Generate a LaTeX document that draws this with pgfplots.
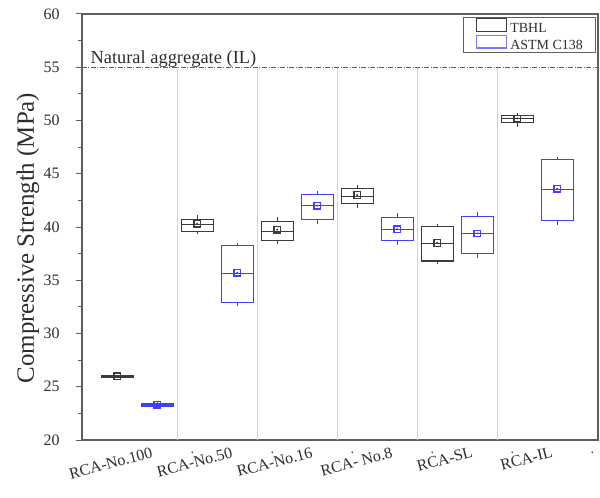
\documentclass[border=0pt]{standalone}
\usepackage{fontspec}
\setmainfont{Liberation Serif}
\usepackage{pgfplots}
\pgfplotsset{compat=1.18}
\usepgfplotslibrary{statistics}
\definecolor{tb}{RGB}{60,60,60}
\definecolor{bl}{RGB}{64,64,250}
\definecolor{sepc}{RGB}{212,212,212}
\definecolor{axc}{RGB}{95,95,95}
\definecolor{txc}{RGB}{45,45,45}
\begin{document}
\begin{tikzpicture}
\begin{axis}[name=ax, scale only axis, width=516bp, height=426bp,
  xmin=0.31, xmax=6.76, ymin=20, ymax=60,
  axis line style={draw=axc, line width=1.3bp},
  ytick={20,25,...,60}, minor y tick num=1,
  ytick pos=left, tick align=outside,
  major tick length=6bp, minor tick length=4bp,
  y tick style={draw=axc, line width=1bp},
  yticklabel style={font=\fontsize{16}{16}\selectfont, text=txc, xshift=-13bp},
  /pgf/number format/assume math mode=true,
  xtick={1,...,6},
  xticklabels={RCA-No.100, RCA-No.50, RCA-No.16, RCA- No.8, RCA-SL, RCA-IL},
  x tick style={draw=none},
  xticklabel style={font=\fontsize{16}{16}\selectfont, text=txc, rotate=15, anchor=north east, inner sep=0pt, xshift=13bp, yshift=-4bp},
  ylabel={Compressive Strength (MPa)},
  every axis y label/.style={at={(rel axis cs:0,0.5)}, xshift=-54bp, yshift=-11bp, rotate=90, anchor=center, font=\fontsize{25}{25}\selectfont, text=txc},
  legend image code/.code={\draw[#1] (0bp,-2bp) rectangle (30bp,10.5bp);},
  legend style={at={(rel axis cs:0.996,0.993)}, anchor=north east, draw=axc, line width=1.2bp,
    font=\fontsize{14}{14}\selectfont, text=txc, inner xsep=12bp, inner ysep=0.5bp, row sep=0bp,
    nodes={inner sep=0.5bp}},
  legend cell align=left,
  /tikz/every odd column/.append style={column sep=3bp},
  clip=false,
  boxplot/draw direction=y,
  boxplot/box extend=0.4, boxplot/whisker extend=0,
]
% separators
\foreach \s in {1.5,2.5,3.5,4.5,5.5}{
  \edef\tmp{\noexpand\draw[sepc, line width=1bp] (axis cs:\s,20) -- (axis cs:\s,55);}\tmp
}
% stray dots under the axis
\foreach \s in {1.69,2.69,3.69,4.69,5.69,6.69}{
  \edef\tmp{\noexpand\node[anchor=center, yshift=-13bp, font=\noexpand\fontsize{14}{14}\noexpand\selectfont, text=txc, inner sep=0pt] at (axis cs:\s,20) {.};}\tmp
}
% natural aggregate line
\addplot[forget plot, draw=axc, line width=1bp, dash pattern=on 5bp off 1.5bp on 1bp off 1.5bp] coordinates {(0.31,55) (6.76,55)};
\node[anchor=base west, xshift=5bp, yshift=4bp, font=\fontsize{18.5}{18.5}\selectfont, text=txc] at (axis cs:0.31,55) {Natural aggregate (IL)};

% TBHL boxes
\addplot[boxplot prepared={draw position=0.75, lower whisker=25.85, lower quartile=25.92, median=26.0, upper quartile=26.06, upper whisker=26.12}, draw=tb, line width=1.2bp, forget plot] coordinates {};
\addplot[boxplot prepared={draw position=1.75, lower whisker=39.3, lower quartile=39.6, median=40.25, upper quartile=40.7, upper whisker=41.1}, draw=tb, line width=1.2bp, forget plot] coordinates {};
\addplot[boxplot prepared={draw position=2.75, lower whisker=38.45, lower quartile=38.75, median=39.6, upper quartile=40.5, upper whisker=40.9}, draw=tb, line width=1.2bp, forget plot] coordinates {};
\addplot[boxplot prepared={draw position=3.75, lower whisker=41.8, lower quartile=42.2, median=42.9, upper quartile=43.6, upper whisker=43.9}, draw=tb, line width=1.2bp, forget plot] coordinates {};
\addplot[boxplot prepared={draw position=4.75, lower whisker=36.5, lower quartile=36.8, median=38.45, upper quartile=40.05, upper whisker=40.3}, draw=tb, line width=1.2bp, forget plot] coordinates {};
\addplot[boxplot prepared={draw position=5.75, lower whisker=49.4, lower quartile=49.8, median=50.2, upper quartile=50.5, upper whisker=50.7}, draw=tb, line width=1.2bp, forget plot] coordinates {};
% ASTM boxes
\addplot[boxplot prepared={draw position=1.25, lower whisker=23.1, lower quartile=23.2, median=23.3, upper quartile=23.45, upper whisker=23.55}, draw=bl, line width=1.2bp, forget plot] coordinates {};
\addplot[boxplot prepared={draw position=2.25, lower whisker=32.6, lower quartile=32.9, median=35.6, upper quartile=38.25, upper whisker=38.5}, draw=bl, line width=1.2bp, forget plot] coordinates {};
\addplot[boxplot prepared={draw position=3.25, lower whisker=40.3, lower quartile=40.7, median=42.0, upper quartile=43.05, upper whisker=43.4}, draw=bl, line width=1.2bp, forget plot] coordinates {};
\addplot[boxplot prepared={draw position=4.25, lower whisker=38.3, lower quartile=38.7, median=39.8, upper quartile=40.9, upper whisker=41.3}, draw=bl, line width=1.2bp, forget plot] coordinates {};
\addplot[boxplot prepared={draw position=5.25, lower whisker=37.1, lower quartile=37.5, median=39.4, upper quartile=41.0, upper whisker=41.4}, draw=bl, line width=1.2bp, forget plot] coordinates {};
\addplot[boxplot prepared={draw position=6.25, lower whisker=40.2, lower quartile=40.6, median=43.5, upper quartile=46.35, upper whisker=46.6}, draw=bl, line width=1.2bp, forget plot] coordinates {};

% means
\addplot[forget plot, only marks, mark=square, mark size=3.2bp, draw=tb, line width=1.3bp] coordinates {(0.75,26.0) (1.75,40.3) (2.75,39.75) (3.75,43.0) (4.75,38.5) (5.75,50.2)};
\addplot[forget plot, only marks, mark=*, mark size=0.8bp, tb] coordinates {(0.75,26.0) (1.75,40.3) (2.75,39.75) (3.75,43.0) (4.75,38.5) (5.75,50.2)};
\addplot[forget plot, only marks, mark=square, mark size=3.2bp, draw=bl, line width=1.3bp] coordinates {(1.25,23.3) (2.25,35.7) (3.25,42.0) (4.25,39.8) (5.25,39.4) (6.25,43.6)};
\addplot[forget plot, only marks, mark=*, mark size=0.8bp, bl] coordinates {(1.25,23.3) (2.25,35.7) (3.25,42.0) (4.25,39.8) (5.25,39.4) (6.25,43.6)};

\addlegendimage{draw=tb, line width=1.1bp}
\addlegendentry{TBHL}
\addlegendimage{draw=bl!70, line width=1.1bp}
\addlegendentry{ASTM C138}
\end{axis}
\path (ax.south west) ++(-82bp,-58bp) rectangle ([shift={(2bp,14bp)}]ax.north east);
\end{tikzpicture}
\end{document}
